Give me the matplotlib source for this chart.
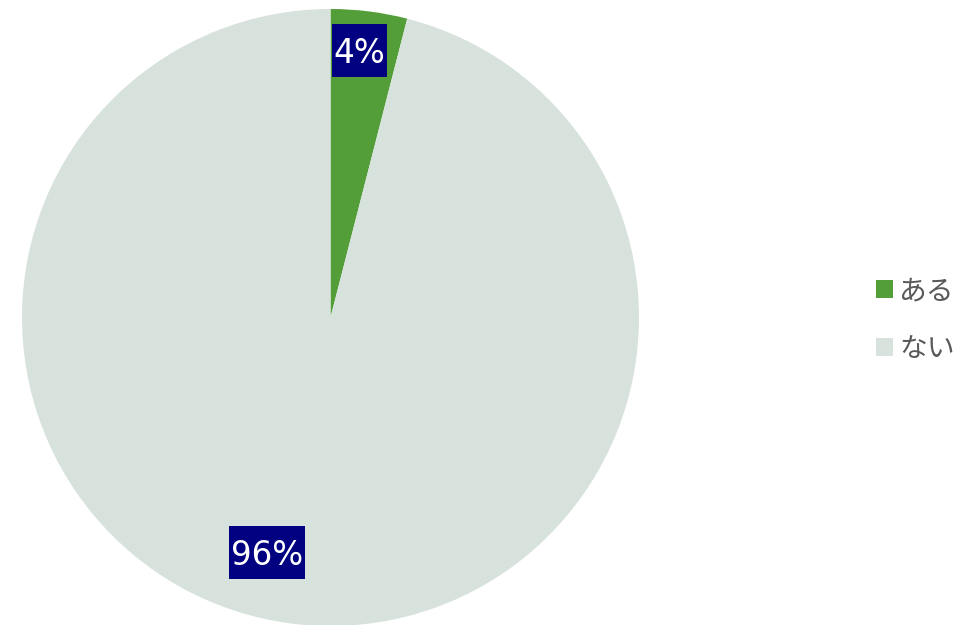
import matplotlib
matplotlib.use("Agg")
import matplotlib.pyplot as plt
import numpy as np
from matplotlib.patches import Patch, Rectangle

plt.rcParams['font.family'] = ['Noto Sans CJK JP', 'DejaVu Sans']

labels = ['ある', 'ない']
values = [4, 96]
colors = ['#549e39', '#d7e2dd']
# label placement: fraction of radius, angle shift from wedge middle (deg)
lab_dist = [0.87, 0.79]
lab_shift = [1.0, -8.0]

DPI = 100
fig = plt.figure(figsize=(9.79, 6.25), dpi=DPI)
ax = fig.add_axes([22 / 979, -1 / 625, 617 / 979, 617 / 625])

wedges, _ = ax.pie(values, colors=colors, startangle=90, counterclock=False,
                   radius=1.0, wedgeprops=dict(linewidth=0))
ax.set_xlim(-1, 1)
ax.set_ylim(-1, 1)
ax.set_aspect('equal')
ax.axis('off')

fs = 23.5
em = fs * DPI / 72
digit_h = 0.729 * em
box_h = 53
total = sum(values)
texts = []
for w, v, d, s in zip(wedges, values, lab_dist, lab_shift):
    ang = np.deg2rad((w.theta1 + w.theta2) / 2 + s)
    cx, cy = ax.transData.transform((d * np.cos(ang), d * np.sin(ang)))
    t = fig.text(cx / fig.bbox.width, (cy - digit_h / 2) / fig.bbox.height,
                 f'{v / total * 100:.0f}%', ha='center', va='baseline',
                 color='white', fontsize=fs, family=['DejaVu Sans'], zorder=5)
    texts.append((t, cx, cy))

# navy boxes behind the percentage labels
renderer = fig.canvas.get_renderer()
for t, cx, cy in texts:
    bb = t.get_window_extent(renderer)
    bw = bb.width + 4
    fig.patches.append(Rectangle(((cx - bw / 2) / fig.bbox.width, (cy - box_h / 2) / fig.bbox.height),
                                 bw / fig.bbox.width, box_h / fig.bbox.height,
                                 transform=fig.transFigure, fc='#000080', ec='none', zorder=4))

handles = [Patch(facecolor=c, edgecolor='none') for c in colors]
fig.legend(handles, labels, loc='center left', bbox_to_anchor=(862 / 979, 1 - 320 / 625),
           frameon=False, fontsize=20, labelcolor='#595959',
           handlelength=0.62, handleheight=0.62, handletextpad=0.22,
           labelspacing=1.0, borderpad=0)

fig.savefig('out.png', dpi=DPI)
